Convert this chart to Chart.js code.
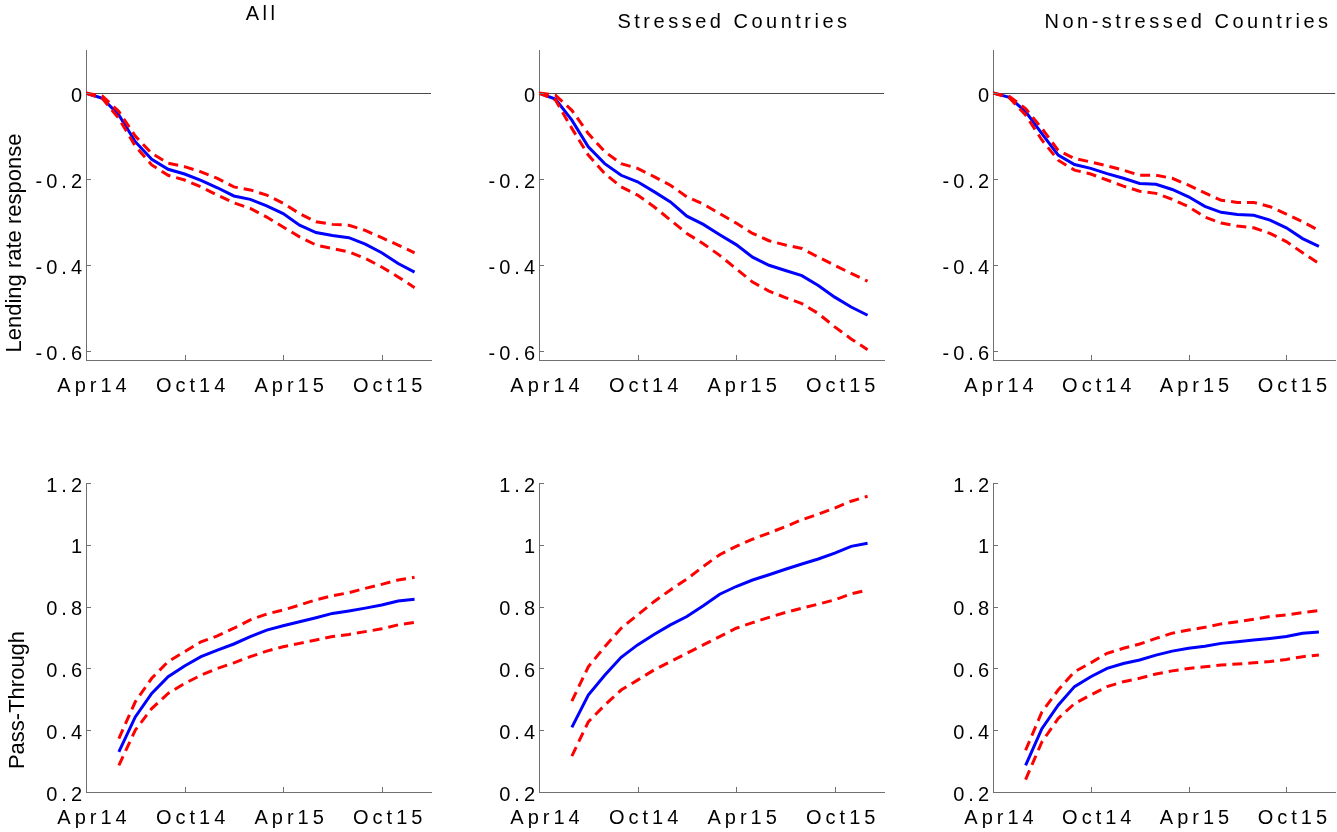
<!DOCTYPE html>
<html>
<head>
<meta charset="utf-8">
<title>Lending rate response and pass-through</title>
<script src="https://cdn.jsdelivr.net/npm/chart.js@4.4.0/dist/chart.umd.min.js"></script>
<style>
  html, body { margin: 0; padding: 0; background: #fff; overflow: hidden; }
  #wrap { position: relative; width: 1337px; height: 832px; }
  canvas { position: absolute; }
</style>
</head>
<body>
<div id="wrap">
  <canvas id="respAll"      width="445" height="416" style="left:0;top:0"></canvas>
  <canvas id="respStressed" width="445" height="416" style="left:445px;top:0"></canvas>
  <canvas id="respNon"      width="447" height="416" style="left:890px;top:0"></canvas>
  <canvas id="ptAll"        width="445" height="416" style="left:0;top:416px"></canvas>
  <canvas id="ptStressed"   width="445" height="416" style="left:445px;top:416px"></canvas>
  <canvas id="ptNon"        width="447" height="416" style="left:890px;top:416px"></canvas>
</div>
<script>
// ── Data (months since Apr14) ──────────────────────────────────────

const MONTHS    = [0, 1, 2, 3, 4, 5, 6, 7, 8, 9, 10, 11, 12, 13, 14, 15, 16, 17, 18, 19, 20];
const PT_MONTHS = [2, 3, 4, 5, 6, 7, 8, 9, 10, 11, 12, 13, 14, 15, 16, 17, 18, 19, 20];

const X_TICKS  = [0, 6, 12, 18];
const X_LABELS = ['Apr14', 'Oct14', 'Apr15', 'Oct15'];

const RESP_Y_TICKS = [-0.6, -0.4, -0.2, 0];
const PT_Y_TICKS   = [0.2, 0.4, 0.6, 0.8, 1, 1.2];

const TITLES = ['All', 'Stressed Countries', 'Non-stressed Countries'];

// lending rate response: point estimate, upper and lower band
const respAllMid   = [0, -0.012, -0.051, -0.113, -0.154, -0.177, -0.188, -0.203, -0.220, -0.239, -0.247, -0.262, -0.280, -0.307, -0.324, -0.331, -0.336, -0.351, -0.371, -0.396, -0.416];
const respAllUp    = [0, -0.007, -0.043, -0.100, -0.140, -0.163, -0.171, -0.183, -0.198, -0.218, -0.225, -0.237, -0.256, -0.280, -0.299, -0.305, -0.307, -0.319, -0.336, -0.353, -0.371];
const respAllLow   = [0, -0.013, -0.059, -0.123, -0.167, -0.191, -0.202, -0.218, -0.237, -0.255, -0.268, -0.288, -0.311, -0.334, -0.353, -0.361, -0.369, -0.384, -0.404, -0.427, -0.452];

const respStrMid   = [0, -0.014, -0.063, -0.125, -0.164, -0.191, -0.206, -0.229, -0.253, -0.286, -0.305, -0.329, -0.352, -0.381, -0.400, -0.412, -0.424, -0.447, -0.474, -0.497, -0.516];
const respStrUp    = [0, -0.005, -0.040, -0.094, -0.136, -0.164, -0.175, -0.194, -0.214, -0.241, -0.258, -0.280, -0.302, -0.326, -0.343, -0.353, -0.361, -0.381, -0.400, -0.419, -0.437];
const respStrLow   = [0, -0.016, -0.082, -0.144, -0.187, -0.218, -0.237, -0.264, -0.295, -0.326, -0.350, -0.377, -0.408, -0.439, -0.460, -0.475, -0.489, -0.512, -0.543, -0.571, -0.596];

const respNonMid   = [0, -0.010, -0.043, -0.094, -0.144, -0.166, -0.175, -0.187, -0.198, -0.210, -0.212, -0.224, -0.241, -0.263, -0.277, -0.282, -0.284, -0.295, -0.313, -0.338, -0.356];
const respNonUp    = [0, -0.008, -0.036, -0.082, -0.133, -0.152, -0.160, -0.169, -0.179, -0.191, -0.191, -0.198, -0.214, -0.232, -0.249, -0.254, -0.254, -0.264, -0.281, -0.299, -0.319];
const respNonLow   = [0, -0.011, -0.051, -0.109, -0.156, -0.179, -0.188, -0.202, -0.216, -0.228, -0.233, -0.247, -0.264, -0.288, -0.302, -0.309, -0.313, -0.326, -0.345, -0.371, -0.396];

// pass-through: point estimate, upper and lower band
const ptAllMid = [0.330, 0.443, 0.519, 0.573, 0.608, 0.638, 0.659, 0.679, 0.703, 0.724, 0.738, 0.751, 0.764, 0.778, 0.786, 0.795, 0.805, 0.818, 0.824];
const ptAllUp  = [0.373, 0.492, 0.568, 0.622, 0.654, 0.686, 0.705, 0.730, 0.757, 0.776, 0.789, 0.805, 0.822, 0.835, 0.845, 0.859, 0.872, 0.886, 0.895];
const ptAllLow = [0.286, 0.400, 0.470, 0.519, 0.551, 0.578, 0.600, 0.618, 0.638, 0.656, 0.670, 0.681, 0.692, 0.703, 0.710, 0.719, 0.728, 0.741, 0.749];

const ptStrMid = [0.409, 0.514, 0.578, 0.636, 0.676, 0.710, 0.741, 0.768, 0.803, 0.840, 0.865, 0.886, 0.903, 0.921, 0.938, 0.954, 0.973, 0.995, 1.005];
const ptStrUp  = [0.494, 0.605, 0.670, 0.730, 0.773, 0.816, 0.854, 0.889, 0.930, 0.968, 0.995, 1.018, 1.038, 1.059, 1.081, 1.099, 1.119, 1.141, 1.157];
const ptStrLow = [0.316, 0.427, 0.481, 0.530, 0.562, 0.595, 0.622, 0.649, 0.676, 0.703, 0.730, 0.748, 0.765, 0.781, 0.795, 0.808, 0.822, 0.841, 0.854];

const ptNonMid = [0.286, 0.405, 0.481, 0.541, 0.573, 0.600, 0.616, 0.627, 0.643, 0.656, 0.665, 0.672, 0.681, 0.686, 0.692, 0.697, 0.703, 0.714, 0.718];
const ptNonUp  = [0.335, 0.459, 0.530, 0.589, 0.618, 0.649, 0.665, 0.679, 0.697, 0.714, 0.724, 0.733, 0.744, 0.751, 0.759, 0.768, 0.773, 0.781, 0.787];
const ptNonLow = [0.240, 0.362, 0.438, 0.486, 0.514, 0.541, 0.557, 0.568, 0.582, 0.592, 0.600, 0.605, 0.611, 0.614, 0.618, 0.622, 0.629, 0.638, 0.643];

// ── Style ──────────────────────────────────────────────────────────

const FONT     = "'Liberation Sans', Arial, sans-serif";
const SPACING  = '4px';      // the wide MATLAB-ish letter spacing on ticks
const AXIS     = '#707070';
const ZERO     = '#4a4a4a';
const BLUE     = '#0000ff';
const RED      = '#ff0000';

Chart.defaults.font.family = FONT;
Chart.defaults.color = '#000';

// inward tick marks, zero line, titles and rotated y labels
const matlabAxes = {
  id: 'matlabAxes',
  beforeUpdate(chart) { chart.ctx.letterSpacing = SPACING; },
  beforeDraw(chart)   { chart.ctx.letterSpacing = SPACING; },
  beforeDatasetsDraw(chart, args, opts) {
    if (!opts.zeroLine) return;
    const { ctx, chartArea: a } = chart;
    const y = Math.round(chart.scales.y.getPixelForValue(0)) + 0.5;
    ctx.save();
    ctx.strokeStyle = ZERO;
    ctx.lineWidth = 1;
    ctx.beginPath();
    ctx.moveTo(a.left, y);
    ctx.lineTo(a.right, y);
    ctx.stroke();
    ctx.restore();
  },
  afterDraw(chart, args, opts) {
    const { ctx, chartArea: a } = chart;
    const xs = chart.scales.x, ys = chart.scales.y;
    ctx.save();
    ctx.strokeStyle = AXIS;
    ctx.lineWidth = 1;
    ctx.beginPath();
    xs.ticks.forEach(t => {
      const x = Math.round(xs.getPixelForValue(t.value)) + 0.5;
      ctx.moveTo(x, a.bottom);
      ctx.lineTo(x, a.bottom - 5);
    });
    ys.ticks.forEach(t => {
      const y = Math.round(ys.getPixelForValue(t.value)) + 0.5;
      ctx.moveTo(a.left, y);
      ctx.lineTo(a.left + 5, y);
    });
    ctx.stroke();

    ctx.fillStyle = '#000';
    if (opts.title) {
      ctx.letterSpacing = '3.5px';
      ctx.font = `20px ${FONT}`;
      ctx.textAlign = 'center';
      ctx.textBaseline = 'alphabetic';
      ctx.fillText(opts.title, a.left + opts.titleX, opts.titleY);
    }
    if (opts.yLabel) {
      ctx.letterSpacing = '0px';
      ctx.font = `22px ${FONT}`;
      ctx.textAlign = 'center';
      ctx.textBaseline = 'alphabetic';
      ctx.translate(opts.yLabelX, opts.yLabelY);
      ctx.rotate(-Math.PI / 2);
      ctx.fillText(opts.yLabel, 0, 0);
    }
    ctx.restore();
  },
};

// ── One panel ──────────────────────────────────────────────────────

function renderPanel(id, xs, mid, up, low, cfg) {
  const pts = vals => vals.map((v, i) => ({ x: xs[i], y: v }));
  const band = vals => ({
    data:        pts(vals),
    borderColor: RED,
    borderWidth: 3,
    borderDash:  [10, 6],
    pointRadius: 0,
    fill:        false,
    tension:     0,
    order:       0,
  });

  const ctx = document.getElementById(id).getContext('2d');
  return new Chart(ctx, {
    type: 'line',
    data: {
      datasets: [
        {
          data:        pts(mid),
          borderColor: BLUE,
          borderWidth: 3,
          pointRadius: 0,
          fill:        false,
          tension:     0,
          order:       1,
        },
        band(up),
        band(low),
      ],
    },
    plugins: [matlabAxes],
    options: {
      responsive: false,
      animation: false,
      events: [],
      layout: { padding: { top: cfg.padTop, right: cfg.padRight, left: 0, bottom: 0 } },
      plugins: {
        legend:  { display: false },
        tooltip: { enabled: false },
        matlabAxes: cfg.deco,
      },
      scales: {
        x: {
          type: 'linear',
          min: 0,
          max: 21,
          grid:   { display: false, drawTicks: false },
          border: { display: true, color: AXIS, width: 1 },
          afterBuildTicks: s => { s.ticks = X_TICKS.map(v => ({ value: v })); },
          afterFit: s => { s.height = cfg.xHeight; },
          ticks: {
            font: { size: 20 },
            color: '#000',
            padding: cfg.xPad,
            labelOffset: 8,
            autoSkip: false,
            maxRotation: 0,
            minRotation: 0,
            callback: v => X_LABELS[X_TICKS.indexOf(v)],
          },
        },
        y: {
          type: 'linear',
          min: cfg.yMin,
          max: cfg.yMax,
          grid:   { display: false, drawTicks: false },
          border: { display: true, color: AXIS, width: 1 },
          afterBuildTicks: s => { s.ticks = cfg.yTicks.map(v => ({ value: v })); },
          afterFit: s => { s.width = cfg.yWidth; },
          ticks: {
            font: { size: 20 },
            color: '#000',
            padding: 0,
            labelOffset: 3,
            autoSkip: false,
            callback: v => String(+v.toFixed(1)),
          },
        },
      },
    },
  });
}

// ── Layout per panel ───────────────────────────────────────────────

const COLS = [
  { yWidth: 86,  padRight: 14, titleX: 176, titleY: 20 },
  { yWidth: 94,  padRight: 6,  titleX: 195, titleY: 28 },
  { yWidth: 103, padRight: 0,  titleX: 195, titleY: 28 },
];

function respCfg(c) {
  return {
    yWidth: COLS[c].yWidth, padRight: COLS[c].padRight,
    padTop: 50, xHeight: 56, xPad: 14,
    yMin: -0.62, yMax: 0.1, yTicks: RESP_Y_TICKS,
    deco: {
      zeroLine: true,
      title: TITLES[c], titleX: COLS[c].titleX, titleY: COLS[c].titleY,
      yLabel: c === 0 ? 'Lending rate response' : null, yLabelX: 21, yLabelY: 243,
    },
  };
}

function ptCfg(c) {
  return {
    yWidth: COLS[c].yWidth, padRight: COLS[c].padRight,
    padTop: 67, xHeight: 40, xPad: 14,
    yMin: 0.2, yMax: 1.2, yTicks: PT_Y_TICKS,
    deco: {
      zeroLine: false,
      yLabel: c === 0 ? 'Pass-Through' : null, yLabelX: 24, yLabelY: 284,
    },
  };
}

renderPanel('respAll',      MONTHS, respAllMid, respAllUp, respAllLow, respCfg(0));
renderPanel('respStressed', MONTHS, respStrMid, respStrUp, respStrLow, respCfg(1));
renderPanel('respNon',      MONTHS, respNonMid, respNonUp, respNonLow, respCfg(2));
renderPanel('ptAll',        PT_MONTHS, ptAllMid, ptAllUp, ptAllLow, ptCfg(0));
renderPanel('ptStressed',   PT_MONTHS, ptStrMid, ptStrUp, ptStrLow, ptCfg(1));
renderPanel('ptNon',        PT_MONTHS, ptNonMid, ptNonUp, ptNonLow, ptCfg(2));
</script>
</body>
</html>
